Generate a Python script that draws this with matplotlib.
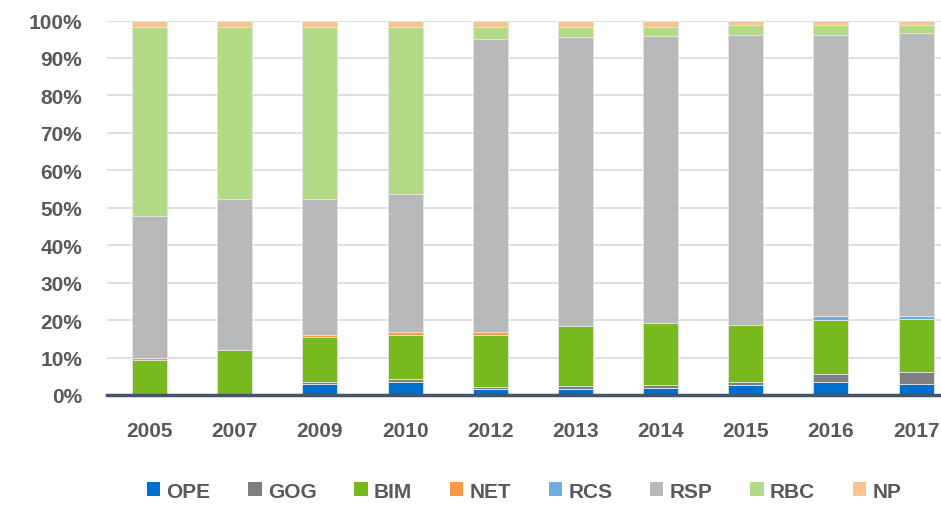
import matplotlib
matplotlib.use("Agg")
import matplotlib.pyplot as plt
import numpy as np
from matplotlib.patches import Patch
from matplotlib.ticker import PercentFormatter

years = ["2005", "2007", "2009", "2010", "2012", "2013", "2014", "2015", "2016", "2017"]

# share of each category per year, in percent
ope = [0.0, 0.0, 3.0, 3.5, 1.7, 1.7, 2.0, 2.8, 3.5, 3.0]
gog = [0.0, 0.0, 0.5, 0.7, 0.4, 0.6, 0.7, 0.7, 2.1, 3.1]
bim = [9.4, 12.0, 12.1, 11.7, 13.8, 16.1, 16.5, 15.2, 14.3, 14.1]
net = [0.4, 0.0, 0.5, 0.8, 0.8, 0.0, 0.0, 0.0, 0.0, 0.0]
rcs = [0.0, 0.0, 0.0, 0.0, 0.0, 0.0, 0.0, 0.0, 1.3, 1.0]
rsp = [37.9, 40.3, 36.2, 37.1, 78.3, 77.1, 76.6, 77.5, 75.0, 75.4]
rbc = [50.6, 46.0, 46.0, 44.5, 3.3, 2.8, 2.5, 2.5, 2.5, 2.1]
np_ = [1.7, 1.7, 1.7, 1.7, 1.7, 1.7, 1.7, 1.3, 1.3, 1.3]

series = [
    ("OPE", ope, "#0070CC"),
    ("GOG", gog, "#7F7F7F"),
    ("BIM", bim, "#77B91F"),
    ("NET", net, "#F79A48"),
    ("RCS", rcs, "#6FAEE2"),
    ("RSP", rsp, "#B8B9BB"),
    ("RBC", rbc, "#B3DB87"),
    ("NP", np_, "#FAC490"),
]

plt.rcParams["font.family"] = ["Liberation Sans", "DejaVu Sans"]
text_color = "#595959"
font_size = 15

fig = plt.figure(figsize=(9.41, 5.06), dpi=100)
ax = fig.add_axes([107 / 941, 110 / 506, 851.7 / 941, 374.5 / 506])

x = np.arange(len(years))
bottom = np.zeros(len(years))
for name, vals, color in series:
    vals = np.array(vals)
    ax.bar(x, vals, width=0.41, bottom=bottom, color=color,
           edgecolor="#E4E4E4", linewidth=0.6, zorder=3)
    bottom += vals

ax.set_xlim(-0.5, len(years) - 0.5)
ax.set_ylim(0, 100)
ax.set_yticks(np.arange(0, 101, 10))
ax.yaxis.set_major_formatter(PercentFormatter(decimals=0))
ax.set_xticks(x)
ax.set_xticklabels(years)

ax.grid(axis="y", color="#D9D9D9", linewidth=1.2, zorder=0)
for side in ["top", "right", "left"]:
    ax.spines[side].set_visible(False)
ax.spines["bottom"].set_color("#44546A")
ax.spines["bottom"].set_linewidth(2.5)
ax.spines["bottom"].set_zorder(4)

ax.tick_params(axis="both", length=0, labelsize=font_size, labelcolor=text_color)
ax.tick_params(axis="y", pad=18)
ax.tick_params(axis="x", pad=19)
for lbl in ax.get_xticklabels() + ax.get_yticklabels():
    lbl.set_fontweight("bold")

handles = [Patch(facecolor=c, edgecolor="none", label=n) for n, _, c in series]
leg = fig.legend(handles=handles, loc="center", ncol=8,
                 bbox_to_anchor=(524 / 941, 1 - 492 / 506), frameon=False,
                 handlelength=0.65, handleheight=0.65, handletextpad=0.3,
                 columnspacing=1.8,
                 prop={"size": font_size, "weight": "bold"})
for t in leg.get_texts():
    t.set_color(text_color)

fig.savefig("out.png", dpi=100)
